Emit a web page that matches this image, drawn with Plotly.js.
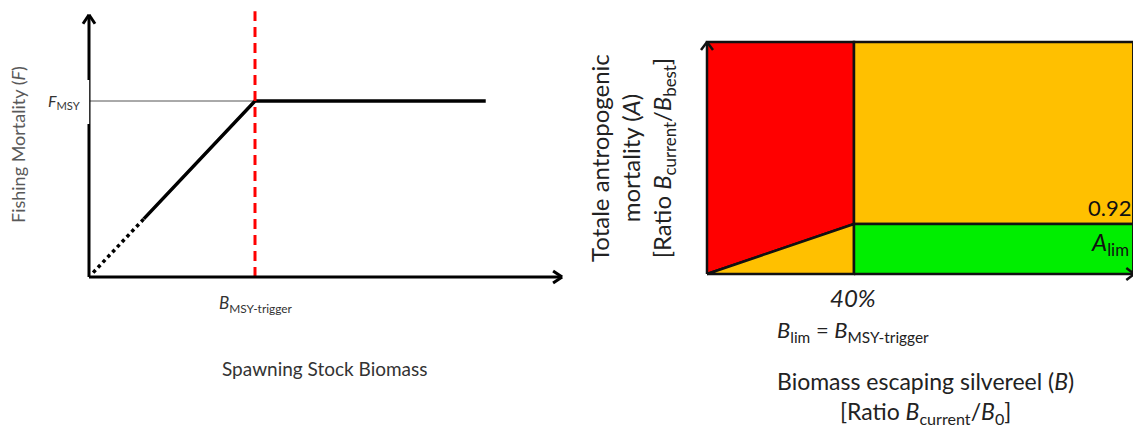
<!DOCTYPE html>
<html><head><meta charset="utf-8">
<script src="https://cdn.plot.ly/plotly-3.0.1.min.js"></script>
<style>html,body{margin:0;padding:0;background:#fff}#chart{width:1133px;height:428px}</style>
</head><body><div id="chart"></div>
<script>
// ---------- data: left panel (harvest control rule) ----------
const Btrigger = 1.0;          // B_MSY-trigger (relative units)
const Fmsy = 1.0;              // F_MSY (relative units)
const dottedB = [0.025, 0.33]; // dotted part of the rule (below trigger)
const dottedF = [0.025, 0.33];
const solidB = [0.33, 1.0, 2.39];
const solidF = [0.33, 1.0, 1.0];
const leftXEnd = 2.85;         // end of biomass axis
const leftYTop = 1.49;         // top of mortality axis
const dashTop = 1.51;          // top of red trigger line

// ---------- data: right panel (eel zones) ----------
const Blim = 0.40;             // 40% of B0
const Alim = 0.92;             // A_lim
const Bmax = 1.16;             // right edge of panel
const Atop = 4.27;             // top of panel
const zoneNames = ["red", "orangeTriangle", "orangeBlock", "green"];
const zoneB = [
  [0, 0, Blim, Blim, 0],
  [0, Blim, Blim, 0],
  [Blim, Blim, Bmax, Bmax, Blim],
  [Blim, Blim, Bmax, Bmax, Blim]
];
const zoneA = [
  [0, Atop, Atop, Alim, 0],
  [0, Alim, 0, 0],
  [Alim, Atop, Atop, Alim, Alim],
  [0, Alim, Alim, 0, 0]
];
const zoneColors = ["#FF0000", "#FFC000", "#FFC000", "#00EE00"];

// ---------- layout helpers (pixel placement) ----------
const W = 1133, H = 428;
const PX = p => p / W, PY = p => 1 - p / H;
// left panel scales
const L = {x0: 89, xs: 166, y0: 277, ys: 176, xr: [-0.1, 2.9], yr: [-0.1, 1.55]};
// right panel scales
const R = {x0: 707, xs: 367.5, y0: 274, ys: 50 / 0.92, xr: [-0.05, (1133 - 707) / 367.5], yr: [-0.3, 4.5]};

const font = "Lato, 'Open Sans', sans-serif";

const traces = [];
// left panel
traces.push({x: [0, Btrigger], y: [Fmsy, Fmsy], mode: 'lines', line: {color: '#555', width: 1}, xaxis: 'x', yaxis: 'y'});
traces.push({x: dottedB, y: dottedF, mode: 'lines', line: {color: '#000', width: 3.5, dash: 'dot'}, xaxis: 'x', yaxis: 'y'});
traces.push({x: solidB, y: solidF, mode: 'lines', line: {color: '#000', width: 3.5}, xaxis: 'x', yaxis: 'y'});
traces.push({x: [Btrigger, Btrigger], y: [0, dashTop], mode: 'lines', line: {color: '#FF0000', width: 3, dash: '10px,6px'}, xaxis: 'x', yaxis: 'y'});
// right panel zones
zoneNames.forEach((n, i) => {
  traces.push({name: n, x: zoneB[i], y: zoneA[i], mode: 'lines', fill: 'toself', fillcolor: zoneColors[i],
    line: {color: '#111', width: 2.5}, xaxis: 'x2', yaxis: 'y2'});
});

const shapes = [
  // left axes
  {type: 'line', xref: 'x', yref: 'y', x0: 0, y0: 0, x1: 0, y1: leftYTop, line: {color: '#000', width: 3}},
  {type: 'line', xref: 'x', yref: 'y', x0: 0, y0: 0, x1: leftXEnd, y1: 0, line: {color: '#000', width: 3}},
  // white box behind F_MSY label (cuts the axis)
  {type: 'rect', xref: 'paper', yref: 'paper', x0: PX(40), x1: PX(89.2), y0: PY(124), y1: PY(80), fillcolor: '#fff', line: {width: 0}},
  // chevrons left
  {type: 'line', xref: 'x', yref: 'y', xsizemode: 'pixel', ysizemode: 'pixel', xanchor: 0, yanchor: leftYTop, x0: -6, y0: -9, x1: 0, y1: 0, line: {color: '#000', width: 3}},
  {type: 'line', xref: 'x', yref: 'y', xsizemode: 'pixel', ysizemode: 'pixel', xanchor: 0, yanchor: leftYTop, x0: 6, y0: -9, x1: 0, y1: 0, line: {color: '#000', width: 3}},
  {type: 'line', xref: 'x', yref: 'y', xsizemode: 'pixel', ysizemode: 'pixel', xanchor: leftXEnd, yanchor: 0, x0: -9, y0: 6, x1: 0, y1: 0, line: {color: '#000', width: 3}},
  {type: 'line', xref: 'x', yref: 'y', xsizemode: 'pixel', ysizemode: 'pixel', xanchor: leftXEnd, yanchor: 0, x0: -9, y0: -6, x1: 0, y1: 0, line: {color: '#000', width: 3}},
  // chevrons right
  {type: 'line', xref: 'x2', yref: 'y2', xsizemode: 'pixel', ysizemode: 'pixel', xanchor: 0, yanchor: Atop, x0: -6, y0: -8, x1: 0, y1: 0, line: {color: '#111', width: 2.5}},
  {type: 'line', xref: 'x2', yref: 'y2', xsizemode: 'pixel', ysizemode: 'pixel', xanchor: 0, yanchor: Atop, x0: 6, y0: -8, x1: 0, y1: 0, line: {color: '#111', width: 2.5}},
  {type: 'line', xref: 'x2', yref: 'y2', xsizemode: 'pixel', ysizemode: 'pixel', xanchor: Bmax, yanchor: 0, x0: -7, y0: 6, x1: 1, y1: 0, line: {color: '#111', width: 2.5}},
  {type: 'line', xref: 'x2', yref: 'y2', xsizemode: 'pixel', ysizemode: 'pixel', xanchor: Bmax, yanchor: 0, x0: -7, y0: -6, x1: 1, y1: 0, line: {color: '#111', width: 2.5}}
];

function ann(text, x, y, size, color, opts) {
  return Object.assign({text: text, x: PX(x), y: PY(y), xref: 'paper', yref: 'paper', showarrow: false,
    xanchor: 'center', yanchor: 'middle', font: {family: font, size: size, color: color}}, opts || {});
}
const annotations = [
  ann('Fishing Mortality (<i>F</i>)', 18, 145, 18, '#595959', {textangle: -90}),
  ann('<i>F</i><sub>MSY</sub>', 64, 101, 16, '#333'),
  ann('<i>B</i><sub>MSY-trigger</sub>', 256, 304, 17, '#333'),
  ann('Spawning Stock Biomass', 325, 368, 19, '#333'),
  ann('Totale antropogenic<br>mortality (<i>A</i>)<br>[Ratio <i>B</i><sub>current</sub>/<i>B</i><sub>best</sub>]', 632, 158, 24, '#222', {textangle: -90}),
  ann(Alim.toFixed(2), 1133, 207, 22, '#111', {xanchor: 'right'}),
  ann('<i>A</i><sub>lim</sub>', 1131, 243, 24, '#111', {xanchor: 'right'}),
  ann('<i>' + Math.round(Blim * 100) + '%</i>', 853, 297, 24, '#222'),
  ann('<i>B</i><sub>lim</sub> = <i>B</i><sub>MSY-trigger</sub>', 853, 331, 22, '#222'),
  ann('Biomass escaping silvereel (<i>B</i>)<br>[Ratio <i>B</i><sub>current</sub>/<i>B</i><sub>0</sub>]', 925, 397, 23, '#222')
];

const ax = (dom, rng) => ({domain: dom, range: rng, visible: false, fixedrange: true, showgrid: false, zeroline: false});
const layout = {
  width: W, height: H, margin: {l: 0, r: 0, t: 0, b: 0},
  paper_bgcolor: '#fff', plot_bgcolor: 'rgba(0,0,0,0)',
  showlegend: false, hovermode: false,
  xaxis: ax([PX(L.x0 + L.xr[0] * L.xs), PX(L.x0 + L.xr[1] * L.xs)], L.xr),
  yaxis: ax([PY(L.y0 - L.yr[0] * L.ys), PY(L.y0 - L.yr[1] * L.ys)], L.yr),
  xaxis2: ax([PX(R.x0 + R.xr[0] * R.xs), PX(R.x0 + R.xr[1] * R.xs)], R.xr),
  yaxis2: ax([PY(R.y0 - R.yr[0] * R.ys), PY(R.y0 - R.yr[1] * R.ys)], R.yr),
  shapes: shapes, annotations: annotations
};
Plotly.newPlot('chart', traces, layout, {staticPlot: true, displayModeBar: false});
</script></body></html>
